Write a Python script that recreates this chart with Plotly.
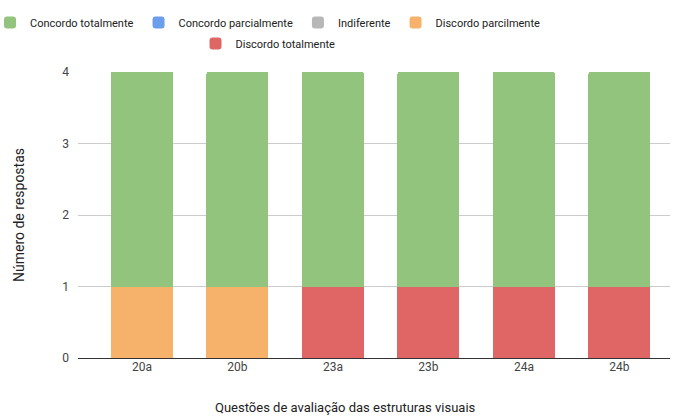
import plotly.graph_objects as go

questoes = ["20a", "20b", "23a", "23b", "24a", "24b"]
concordo_totalmente = [3, 3, 3, 3, 3, 3]
concordo_parcialmente = [0, 0, 0, 0, 0, 0]
indiferente = [0, 0, 0, 0, 0, 0]
discordo_parcilmente = [1, 1, 0, 0, 0, 0]
discordo_totalmente = [0, 0, 1, 1, 1, 1]
y_ticks = [0, 1, 2, 3, 4]

FONT = "Roboto, Arial, sans-serif"
TXT = "#444444"
TITLE = "#222222"

# stacking order: first trace sits at the bottom of each bar
series = [
    ("Discordo totalmente", discordo_totalmente, "#e06666", "legend2", 5),
    ("Discordo parcilmente", discordo_parcilmente, "#f6b26b", "legend", 4),
    ("Indiferente", indiferente, "#b7b7b7", "legend", 3),
    ("Concordo parcialmente", concordo_parcialmente, "#6d9eeb", "legend", 2),
    ("Concordo totalmente", concordo_totalmente, "#93c47d", "legend", 1),
]

fig = go.Figure()
for name, vals, color, leg, rank in series:
    fig.add_trace(go.Bar(
        x=questoes, y=vals, name=name, marker=dict(color=color, line=dict(width=0)),
        legend=leg, legendrank=rank, hoverinfo="x+y+name",
    ))

legend_center = 268 / 673

fig.update_layout(
    width=673, height=416,
    barmode="stack", bargap=0.35, barcornerradius=2,
    margin=dict(l=78, r=3, t=72, b=58),
    paper_bgcolor="white", plot_bgcolor="white",
    font=dict(family=FONT, size=12, color=TXT),
    legend=dict(
        orientation="h", xref="container", yref="container",
        x=legend_center, xanchor="center", y=1 - 8 / 416, yanchor="top",
        font=dict(family=FONT, size=11, color=TITLE),
        itemwidth=30, traceorder="normal", itemclick=False,
    ),
    legend2=dict(
        orientation="h", xref="container", yref="container",
        x=legend_center, xanchor="center", y=1 - 29 / 416, yanchor="top",
        font=dict(family=FONT, size=11, color=TITLE),
        itemwidth=30, traceorder="normal",
    ),
    xaxis=dict(
        range=[-0.67, 5.53], showgrid=False, ticks="",
        showline=False, zeroline=False,
        tickfont=dict(family=FONT, size=12, color=TXT),
    ),
    yaxis=dict(
        range=[0, 4], tickvals=y_ticks, showgrid=True, gridcolor="#cccccc", gridwidth=1,
        zeroline=True, zerolinecolor="#333333", zerolinewidth=1.3,
        showline=False, ticks="", ticklabelstandoff=8,
        tickfont=dict(family=FONT, size=12, color=TXT),
        title=dict(text="Número de respostas",
                   font=dict(family=FONT, size=14, color=TITLE), standoff=34),
    ),
    annotations=[dict(
        text="Questões de avaliação das estruturas visuais",
        xref="paper", yref="paper", x=(345 - 78) / 592, y=-(407 - 358) / 286,
        xanchor="center", yanchor="middle", showarrow=False,
        font=dict(family=FONT, size=13, color=TITLE),
    )],
)

fig.write_html("out.html")
